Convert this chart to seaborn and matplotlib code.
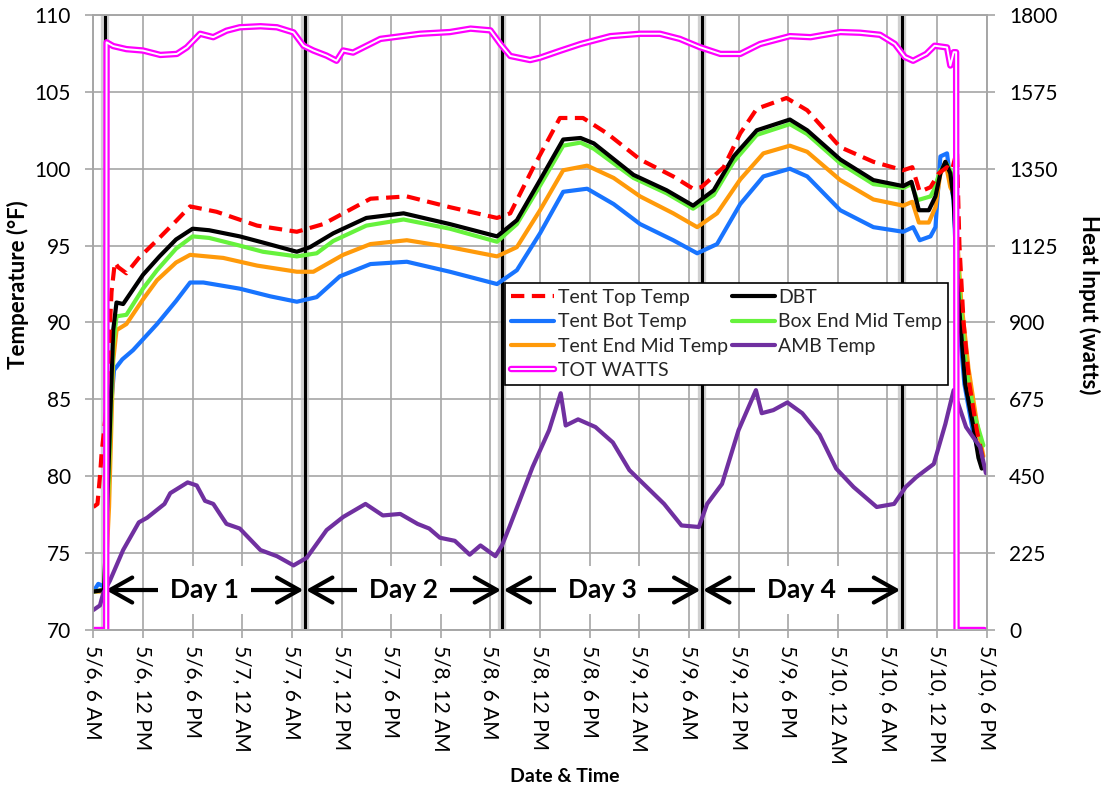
import matplotlib
matplotlib.use("Agg")
import matplotlib.pyplot as plt
import matplotlib.patheffects as pe
import seaborn as sns

# ---------------- data (hours after 5/6 6 AM) ----------------
tick_hours = list(range(0, 109, 6))
tick_labels = ["5/6, 6 AM", "5/6, 12 PM", "5/6, 6 PM", "5/7, 12 AM", "5/7, 6 AM",
               "5/7, 12 PM", "5/7, 6 PM", "5/8, 12 AM", "5/8, 6 AM", "5/8, 12 PM",
               "5/8, 6 PM", "5/9, 12 AM", "5/9, 6 AM", "5/9, 12 PM", "5/9, 6 PM",
               "5/10, 12 AM", "5/10, 6 AM", "5/10, 12 PM", "5/10, 6 PM"]
temp_ticks = [70, 75, 80, 85, 90, 95, 100, 105, 110]
watt_ticks = [0, 225, 450, 675, 900, 1125, 1350, 1575, 1800]

top_h = [0, 0.5, 0.8, 1.0, 1.5, 2.2, 2.6, 3.0, 4.0, 5.5, 7.7, 10, 11.7, 14.9, 19.8,
         24.6, 27.8, 33.5, 37.9, 43.1, 48.8, 50.4, 53.2, 56.4, 59.2, 62.1, 66.1, 70.1,
         72.5, 73.5, 76.2, 78.2, 80.2, 83.8, 86.3, 90.3, 94.3, 97.9, 99.0, 99.9, 101.2,
         102.2, 103.2, 103.8, 104.4, 104.7, 105.2, 105.9, 106.8, 107.6]
top_v = [78.0, 78.2, 80.0, 81.5, 84.0, 92.0, 93.9, 93.6, 93.2, 94.2, 95.35, 96.6, 97.55,
         97.2, 96.3, 95.9, 96.4, 98.05, 98.2, 97.5, 96.8, 97.1, 100.1, 103.3, 103.3, 102.3,
         100.6, 99.5, 98.7, 98.8, 100.1, 102.3, 103.9, 104.6, 103.8, 101.4, 100.45, 99.9,
         100.1, 98.5, 98.8, 99.7, 100.1, 99.9, 101.2, 95.0, 90.0, 86.0, 83.0, 81.0]

dbt_h = [0, 1.3, 1.8, 2.4, 2.8, 3.6, 6, 8, 10, 12, 14, 17.7, 20.5, 24.6, 26.2, 29, 33,
         37.5, 43.1, 48.8, 51.2, 54, 56.8, 58.9, 60.5, 65.3, 69.3, 72.5, 75, 77.4, 80.2,
         84.2, 86.3, 90.3, 94.3, 97.9, 98.9, 99.8, 101.0, 101.8, 102.4, 103.0, 103.6,
         104.0, 104.6, 105.4, 106.4, 107.0, 107.4]
dbt_v = [72.5, 72.6, 80.0, 89.5, 91.3, 91.2, 93.1, 94.3, 95.4, 96.1, 96.0, 95.6, 95.2,
         94.6, 94.9, 95.8, 96.8, 97.1, 96.4, 95.6, 96.65, 99.26, 101.9, 102.0, 101.65,
         99.6, 98.6, 97.6, 98.6, 100.8, 102.5, 103.2, 102.5, 100.6, 99.26, 98.87, 99.15,
         97.3, 97.3, 98.2, 99.7, 100.45, 99.7, 98.0, 91.4, 86.0, 83.2, 81.2, 80.5]

box_h = [0, 1.3, 1.8, 2.4, 2.8, 4.0, 6, 7.7, 10, 12, 14, 17.7, 20.5, 24.6, 27, 29, 33,
         37.5, 43.1, 48.8, 51.2, 54, 56.8, 58.9, 60.5, 65.3, 69.3, 72.5, 75, 77.4, 80.2,
         84.2, 86.3, 90.3, 94.3, 97.9, 98.9, 99.6, 101.2, 101.6, 102.4, 103.2, 103.6,
         104.1, 104.7, 105.5, 106.5, 107.6]
box_v = [72.5, 72.6, 79.0, 88.5, 90.4, 90.5, 92.2, 93.4, 94.8, 95.6, 95.5, 95.0, 94.6,
         94.3, 94.5, 95.3, 96.3, 96.7, 96.1, 95.25, 96.4, 98.9, 101.5, 101.7, 101.3, 99.4,
         98.4, 97.4, 98.3, 100.45, 102.2, 102.9, 102.25, 100.35, 99.0, 98.75, 99.0, 97.95,
         98.2, 98.6, 99.9, 100.3, 99.9, 99.0, 92.0, 87.0, 84.0, 82.0]

end_h = [0, 1.4, 1.9, 2.4, 2.8, 4.0, 6, 7.7, 10, 11.7, 15.7, 19.8, 24.6, 26.6, 30.2,
         33.5, 37.9, 43.1, 48.8, 51.2, 54, 56.8, 59.7, 62.9, 66.1, 70.1, 73, 75.4, 78.2,
         81, 84.2, 86.3, 90.3, 94.3, 97.9, 99.0, 99.8, 101.0, 101.8, 102.4, 103.0, 103.6,
         104.1, 104.9, 105.8, 106.8, 107.6]
end_v = [72.5, 72.5, 78.0, 87.5, 89.5, 89.9, 91.5, 92.75, 93.9, 94.4, 94.2, 93.7, 93.3,
         93.3, 94.4, 95.1, 95.35, 94.9, 94.3, 94.9, 97.3, 99.9, 100.2, 99.4, 98.2, 97.1,
         96.2, 97.1, 99.3, 101.0, 101.5, 101.1, 99.26, 98.0, 97.6, 97.85, 96.5, 96.5, 97.5,
         99.7, 100.45, 98.8, 98.3, 91.5, 87.0, 83.5, 81.3]

bot_h = [0, 0.6, 1.4, 2.0, 2.5, 3.5, 4.8, 7.7, 10, 11.7, 13.3, 17.7, 21.4, 24.6, 27,
         29.8, 33.5, 37.9, 43.1, 48.8, 51.2, 54, 56.8, 59.7, 62.9, 66.1, 70.1, 73, 75.4,
         78.2, 81, 84.2, 86.3, 90.3, 94.3, 97.9, 99.1, 99.9, 101.2, 101.8, 102.4, 103.2,
         103.6, 104.0, 104.5, 105.3, 106.3, 107.3]
bot_v = [72.5, 73.0, 72.8, 83.6, 86.9, 87.6, 88.2, 89.9, 91.4, 92.6, 92.6, 92.2, 91.7,
         91.35, 91.65, 93.0, 93.8, 93.95, 93.3, 92.5, 93.4, 95.8, 98.5, 98.7, 97.7, 96.4,
         95.35, 94.5, 95.1, 97.7, 99.5, 100.0, 99.5, 97.3, 96.2, 95.9, 96.2, 95.35, 95.6,
         96.2, 100.8, 101.0, 99.26, 97.95, 91.0, 86.0, 83.0, 81.0]

amb_h = [0, 0.8, 1.2, 2.0, 3.6, 5.5, 6.5, 8.6, 9.3, 11.4, 12.5, 13.5, 14.5, 15.6, 16.1,
         17.7, 20.2, 22.2, 24.2, 25.8, 28.2, 30.2, 32.9, 35.0, 37.1, 39.2, 40.6, 41.9,
         43.7, 45.5, 46.8, 48.6, 49.4, 50.3, 53.1, 55.1, 56.5, 57.1, 58.6, 60.7, 62.8,
         64.8, 66.9, 69.0, 71.1, 73.2, 74.2, 76.0, 78.0, 80.1, 80.8, 82.2, 83.9, 85.7,
         87.8, 89.8, 91.9, 94.7, 96.8, 98.2, 99.5, 101.6, 103.0, 104.0, 105.5, 107.2, 107.9]
amb_v = [71.3, 71.6, 72.4, 73.2, 75.2, 77.0, 77.3, 78.2, 78.9, 79.6, 79.4, 78.4, 78.2,
         77.3, 76.9, 76.6, 75.2, 74.8, 74.2, 74.7, 76.5, 77.35, 78.2, 77.45, 77.55, 76.9,
         76.6, 76.0, 75.8, 74.9, 75.5, 74.8, 75.5, 76.7, 80.6, 83.0, 85.4, 83.3, 83.7,
         83.2, 82.2, 80.4, 79.3, 78.2, 76.8, 76.7, 78.2, 79.5, 83.0, 85.6, 84.1, 84.3,
         84.8, 84.1, 82.7, 80.5, 79.3, 78.0, 78.2, 79.3, 79.95, 80.8, 83.4, 85.6, 83.2,
         81.9, 80.2]

watt_h = [0, 1.55, 1.6, 2.4, 4, 6, 8.1, 10.1, 11.3, 12.9, 14.5, 16.1, 17.7, 20.2, 22.2,
          24.2, 25.4, 26.6, 28.2, 29.4, 30.2, 31.4, 34.7, 39.5, 43.1, 45.6, 48.0, 49.2,
          50.4, 52.8, 54.0, 56.4, 58.9, 62.5, 66.1, 68.5, 70.9, 73.3, 75.8, 78.2, 80.6,
          84.2, 86.7, 90.3, 92.7, 95.1, 96.9, 98.1, 99.1, 100.7, 101.7, 103.2, 103.6,
          104.0, 104.3, 104.35, 107.7]
watt_v = [0, 0, 1720, 1709, 1700, 1696, 1683, 1686, 1705, 1745, 1735, 1754, 1764, 1767,
          1764, 1749, 1710, 1696, 1681, 1666, 1696, 1690, 1730, 1745, 1750, 1760, 1755,
          1715, 1680, 1668, 1675, 1695, 1715, 1738, 1745, 1745, 1730, 1706, 1686, 1686,
          1715, 1738, 1735, 1750, 1748, 1742, 1715, 1677, 1666, 1686, 1710, 1705, 1652,
          1691, 1691, 0, 0]

day_bounds = [1.35, 25.55, 49.45, 73.55, 97.7]
day_labels = ["Day 1", "Day 2", "Day 3", "Day 4"]
arrow_temp = 72.6

# ---------------- styling ----------------
sns.set_theme(style="white")
plt.rcParams["font.family"] = ["Lato", "DejaVu Sans"]
GRID = "#A6A6A6"

fig = plt.figure(figsize=(11.02, 7.88), dpi=100)
ax = fig.add_axes([0.0847, 0.2005, 0.8107, 0.7805])
ax2 = ax.twinx()

LW = 3.0
series = [
    (top_h, top_v, "#FF0000", "Tent Top Temp"),
    (dbt_h, dbt_v, "#000000", "DBT"),
    (bot_h, bot_v, "#1874FF", "Tent Bot Temp"),
    (box_h, box_v, "#66F23C", "Box End Mid Temp"),
    (end_h, end_v, "#FF9A0A", "Tent End Mid Temp"),
    (amb_h, amb_v, "#7030A0", "AMB Temp"),
]
order = ["Tent Bot Temp", "Tent End Mid Temp", "Box End Mid Temp", "DBT", "Tent Top Temp", "AMB Temp"]
lines = {}
for name in order:
    h, v, c, lab = [s for s in series if s[3] == name][0]
    sns.lineplot(x=h, y=v, ax=ax, color=c, linewidth=LW, estimator=None, sort=False,
                 label=lab, zorder=3)
    ln = ax.lines[-1]
    ln.set_solid_capstyle("round")
    if name == "Tent Top Temp":
        ln.set_dashes([3.2, 1.8])
        ln.set_dash_capstyle("butt")
    lines[lab] = ln

# day separator lines
for d in day_bounds:
    ax.axvline(d, color="#BDBDBD", lw=6, alpha=0.7, zorder=1.5)
    ax.axvline(d, color="black", lw=2.2, zorder=1.6)

# day arrows and labels
for i, lab in enumerate(day_labels):
    a, b = day_bounds[i], day_bounds[i + 1]
    ax.annotate("", xy=(a + 0.15, arrow_temp), xytext=(b - 0.15, arrow_temp),
                arrowprops=dict(arrowstyle="<->,head_length=0.8,head_width=0.45",
                                lw=3, color="black", mutation_scale=20,
                                shrinkA=0, shrinkB=0), zorder=6)
    ax.text((a + b) / 2, arrow_temp, lab, ha="center", va="center", fontsize=19,
            fontweight="bold", color="black", zorder=7,
            bbox=dict(boxstyle="square,pad=0.45", fc="white", ec="none"))

# heat input (secondary axis)
sns.lineplot(x=watt_h, y=watt_v, ax=ax2, color="white", linewidth=1.4, estimator=None,
             sort=False, label="TOT WATTS")
wl = ax2.lines[-1]
wl.set_path_effects([pe.Stroke(linewidth=4.6, foreground="#FF00FF"), pe.Normal()])

for a_ in (ax, ax2):
    if a_.get_legend() is not None:
        a_.get_legend().remove()

# axes
ax.set_xlim(0, 108)
ax.set_ylim(70, 110)
ax2.set_ylim(0, 1800)
ax.set_xticks(tick_hours)
ax.set_xticklabels(tick_labels, rotation=270, ha="center", va="top")
ax.set_yticks(temp_ticks)
ax.set_yticklabels([str(t) for t in temp_ticks])
ax2.set_yticks(watt_ticks)
ax2.set_yticklabels([str(w) for w in watt_ticks])

ax.grid(True, color=GRID, lw=1.2)
ax.set_axisbelow(True)
ax2.grid(False)
for a_ in (ax, ax2):
    for sp in a_.spines.values():
        sp.set_color(GRID)
        sp.set_linewidth(1.2)
ax.tick_params(axis="x", bottom=True, length=6, width=1.2, color=GRID, labelsize=15,
               pad=5, labelcolor="black")
ax.tick_params(axis="y", left=True, length=6, width=1.2, color=GRID, labelsize=15,
               pad=10, labelcolor="black")
ax2.tick_params(axis="y", right=True, left=False, length=6, width=1.2, color=GRID,
                labelsize=15, pad=10, labelcolor="black")

ax.set_xlabel("Date & Time", fontsize=14, fontweight="bold", color="black")
ax.set_ylabel("Temperature (°F)", fontsize=16, fontweight="bold", color="black")
ax2.set_ylabel("Heat Input (watts)", fontsize=16, fontweight="bold", color="black",
               rotation=270)
ax.xaxis.set_label_coords(565 / 1102, 1 - 777 / 788, transform=fig.transFigure)
ax.xaxis.label.set_va("center")
ax.yaxis.set_label_coords(18 / 1102, 1 - 285 / 788, transform=fig.transFigure)
ax.yaxis.label.set_va("center")
ax2.yaxis.set_label_coords(1089 / 1102, 1 - 305 / 788, transform=fig.transFigure)
ax2.yaxis.label.set_va("center")

# legend
handles = [lines["Tent Top Temp"], lines["Tent Bot Temp"], lines["Tent End Mid Temp"], wl,
           lines["DBT"], lines["Box End Mid Temp"], lines["AMB Temp"]]
labels = ["Tent Top Temp", "Tent Bot Temp", "Tent End Mid Temp", "TOT WATTS",
          "DBT", "Box End Mid Temp", "AMB Temp"]
leg = ax2.legend(handles, labels, ncol=2, loc="upper left",
                 bbox_to_anchor=(0.461, 0.395, 0.496, 0.169), mode="expand",
                 frameon=True, fancybox=False, edgecolor="black", framealpha=1,
                 fontsize=14, handlelength=2.2, labelspacing=0.38, borderpad=0.3,
                 columnspacing=0.8, handletextpad=0.2, borderaxespad=0)
leg.get_frame().set_linewidth(1.2)
leg.set_zorder(10)

fig.savefig("out.png", dpi=100)
